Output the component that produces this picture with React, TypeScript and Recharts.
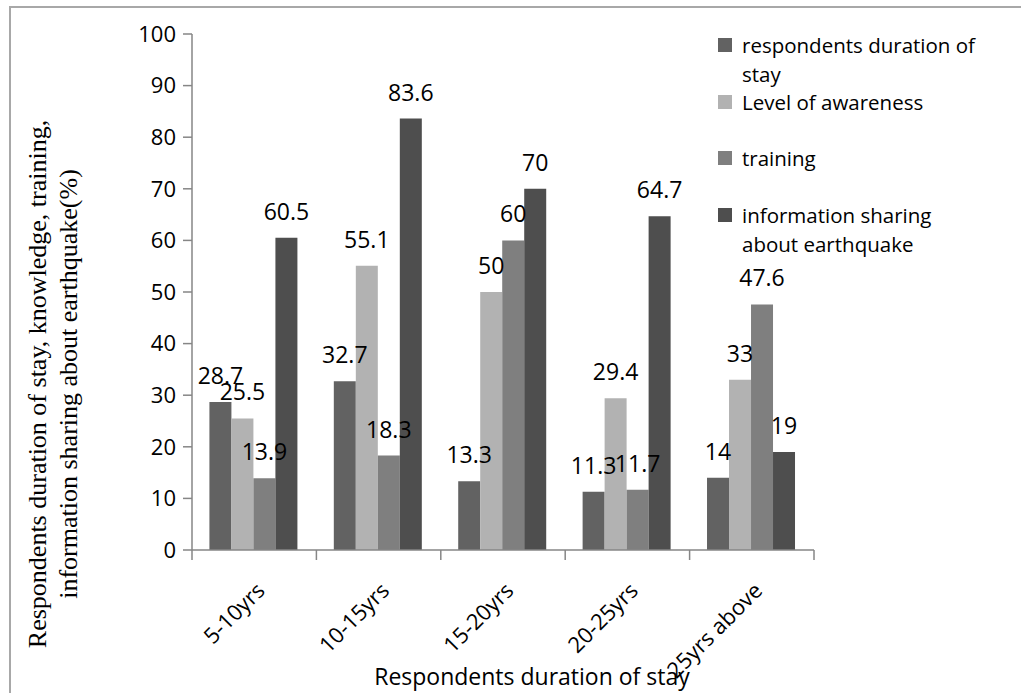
import React from 'react';
import { Bar, BarChart, LabelList, Legend, XAxis, YAxis } from 'recharts';

const categories = ['5-10yrs', '10-15yrs', '15-20yrs', '20-25yrs', '25yrs above'];
const durationOfStay = [28.7, 32.7, 13.3, 11.3, 14];
const awareness = [25.5, 55.1, 50, 29.4, 33];
const training = [13.9, 18.3, 60, 11.7, 47.6];
const infoSharing = [60.5, 83.6, 70, 64.7, 19];
const yTicks = [0, 10, 20, 30, 40, 50, 60, 70, 80, 90, 100];

const seriesNames = [
  'respondents duration of stay',
  'Level of awareness',
  'training',
  'information sharing about earthquake',
];
const seriesColors = ['#626262', '#b2b2b2', '#7f7f7f', '#4e4e4e'];

const data = categories.map((name, i) => ({
  name,
  s0: durationOfStay[i],
  s1: awareness[i],
  s2: training[i],
  s3: infoSharing[i],
}));

const sans = '"Open Sans", Lato, sans-serif';
const axisGray = '#868686';

const CategoryTick = (props: any) => {
  const { x, y, payload, index, visibleTicksCount } = props;
  const half = payload.offset ?? 62;
  const last = index === visibleTicksCount - 1;
  return (
    <g>
      <line x1={x - half} x2={x - half} y1={y} y2={y + 10} stroke={axisGray} strokeWidth={1.5} />
      {last && <line x1={x + half} x2={x + half} y1={y} y2={y + 10} stroke={axisGray} strokeWidth={1.5} />}
      <text
        x={x + 12}
        y={y + 42}
        textAnchor="end"
        transform={`rotate(-45, ${x + 12}, ${y + 42})`}
        fontFamily={sans}
        fontSize={22}
        fill="#000"
      >
        {payload.value}
      </text>
    </g>
  );
};

const XTitle = (props: any) => {
  const { viewBox } = props;
  const cx = viewBox.x + viewBox.width / 2 + 29;
  return (
    <text x={cx} y={685} textAnchor="middle" fontFamily={sans} fontSize={23} fill="#000">
      Respondents duration of stay
    </text>
  );
};

const YTitle = () => (
  <g fontFamily='"Liberation Serif", "Times New Roman", serif' fontSize={26} fill="#000">
    <text x={46} y={384} textAnchor="middle" transform="rotate(-90, 46, 384)">
      Respondents duration of stay, knowledge, training,
    </text>
    <text x={77} y={384} textAnchor="middle" transform="rotate(-90, 77, 384)">
      information sharing about earthquake(%)
    </text>
  </g>
);

const LegendBox = () => (
  <div style={{ fontFamily: sans, fontSize: 20.5, lineHeight: '28.5px', color: '#000' }}>
    {seriesNames.map((n, i) => (
      <div key={n} style={{ display: 'flex', height: 56.7 }}>
        <div
          style={{ width: 14, height: 14, marginTop: 7, marginRight: 10, background: seriesColors[i], flex: 'none' }}
        />
        <div style={{ width: 245 }}>{n}</div>
      </div>
    ))}
  </div>
);

export default function App() {
  return (
    <div style={{ position: 'relative', width: 1021, height: 693, background: '#fff', overflow: 'hidden' }}>
      <style>{`body{margin:0}`}</style>
      <div
        style={{
          position: 'absolute',
          left: 9,
          top: 6,
          width: 1030,
          height: 700,
          borderLeft: '2px solid #a8a8a8',
          borderTop: '2px solid #a8a8a8',
        }}
      />
      <div style={{ position: 'absolute', left: 0, top: 0 }}>
        <BarChart
          width={1021}
          height={693}
          data={data}
          margin={{ top: 34, right: 207, left: 0, bottom: 0 }}
          barCategoryGap="14%"
          barGap={0}
        >
          <XAxis
            dataKey="name"
            height={143}
            tickLine={false}
            tickSize={0}
            tickMargin={0}
            stroke={axisGray}
            strokeWidth={1.5}
            tick={<CategoryTick />}
            interval={0}
            label={{ content: (p: any) => <XTitle {...p} /> }}
          />
          <YAxis
            width={192}
            domain={[0, 100]}
            ticks={yTicks}
            interval={0}
            stroke={axisGray}
            strokeWidth={1.5}
            tickSize={9}
            tickMargin={7}
            tick={{ fill: '#000', fontSize: 22, fontFamily: sans }}
            label={{ content: () => <YTitle /> }}
          />
          <Legend
            layout="vertical"
            align="center"
            verticalAlign="middle"
            content={() => <LegendBox />}
            wrapperStyle={{ left: 718, top: 31, width: 300 }}
          />
          {['s0', 's1', 's2', 's3'].map((k, i) => (
            <Bar key={k} dataKey={k} name={seriesNames[i]} fill={seriesColors[i]} isAnimationActive={false}>
              <LabelList dataKey={k} position="top" offset={18} fill="#000" fontSize={23} fontFamily={sans} />
            </Bar>
          ))}
        </BarChart>
      </div>
    </div>
  );
}
